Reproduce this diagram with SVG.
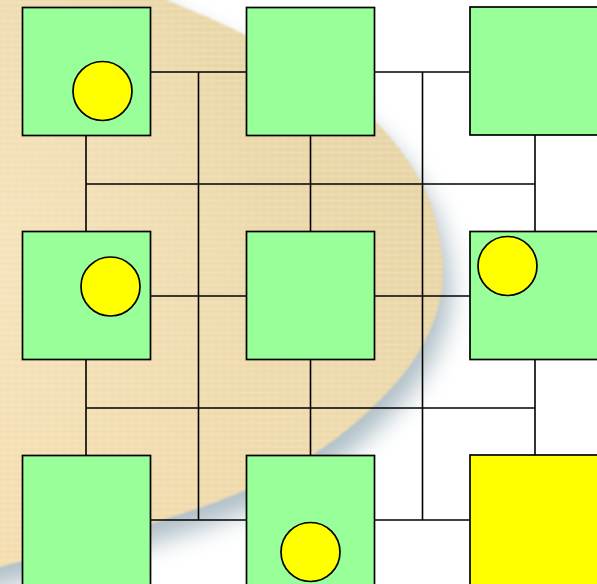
<svg xmlns="http://www.w3.org/2000/svg" width="597" height="584" viewBox="0 0 597 584">
<defs>
<style>
.node{fill:#99ff99;stroke:#000;stroke-width:1.7}
.hot{fill:#ffff00;stroke:#000;stroke-width:1.7}
.dot{fill:#ffff00;stroke:#000;stroke-width:1.7}
.wire{fill:none;stroke:#000;stroke-width:1.6}
</style>
<linearGradient id="tan" x1="1" y1="0" x2="0" y2="1">
<stop offset="0" stop-color="#e2cf9e"/>
<stop offset="0.45" stop-color="#ecd8aa"/>
<stop offset="1" stop-color="#f3daa8"/>
</linearGradient>
<radialGradient id="sheen" cx="0.05" cy="0.5" r="0.6">
<stop offset="0" stop-color="#fbeccc" stop-opacity="0.5"/>
<stop offset="1" stop-color="#fbeccc" stop-opacity="0"/>
</radialGradient>
<pattern id="stripes" width="8" height="6" patternUnits="userSpaceOnUse">
<rect x="0" y="2" width="8" height="1.2" fill="#fff6e0" opacity="0.45"/>
<rect x="3" y="0" width="0.8" height="6" fill="#fff6e0" opacity="0.18"/>
</pattern>
<filter id="shadowBlur" x="-20%" y="-20%" width="140%" height="140%">
<feGaussianBlur stdDeviation="12"/>
</filter>
<filter id="edgeBlur" x="-5%" y="-5%" width="110%" height="110%">
<feGaussianBlur stdDeviation="1.2"/>
</filter>
<path id="wafer" d="M -60,-40 L 120,-40 L 167,0 C 189.5,10 211.2,18 235,30 C 258.8,42 286.8,57 310,72 C 333.2,87 355.7,102 374,120 C 392.3,138 409,160 420,180 C 431,200 436.5,220.8 440,240 C 443.5,259.2 444.3,276.7 441,295 C 437.7,313.3 430.2,332.5 420,350 C 409.8,367.5 396.7,383.3 380,400 C 363.3,416.7 342.3,435 320,450 C 297.7,465 274.3,477.7 246,490 C 217.7,502.3 191,511.2 150,524 C 109,536.8 35,557.7 0,567 L -60,580 Z"/>
</defs>
<rect width="597" height="584" fill="#ffffff"/>
<g id="background">
<use href="#wafer" transform="translate(8,18)" fill="#8ea4b0" opacity="0.7" filter="url(#shadowBlur)"/>
<g filter="url(#edgeBlur)">
<use href="#wafer" fill="url(#tan)"/>
<use href="#wafer" fill="url(#sheen)"/>
<use href="#wafer" fill="url(#stripes)"/>
</g>
</g>
<g id="connectors">
<line class="wire" x1="150" y1="72" x2="246" y2="72"/>
<line class="wire" x1="374" y1="72" x2="470" y2="72"/>
<line class="wire" x1="198.5" y1="72" x2="198.5" y2="520"/>
<line class="wire" x1="422.5" y1="72" x2="422.5" y2="520"/>
<line class="wire" x1="86" y1="135" x2="86" y2="232"/>
<line class="wire" x1="310.5" y1="135" x2="310.5" y2="232"/>
<line class="wire" x1="535" y1="135" x2="535" y2="232"/>
<line class="wire" x1="86" y1="359" x2="86" y2="456"/>
<line class="wire" x1="310.5" y1="359" x2="310.5" y2="456"/>
<line class="wire" x1="535" y1="359" x2="535" y2="456"/>
<line class="wire" x1="86" y1="184" x2="535" y2="184"/>
<line class="wire" x1="86" y1="408" x2="535" y2="408"/>
<line class="wire" x1="150" y1="296" x2="246" y2="296"/>
<line class="wire" x1="374" y1="296" x2="470" y2="296"/>
<line class="wire" x1="150" y1="520" x2="246" y2="520"/>
<line class="wire" x1="374" y1="520" x2="470" y2="520"/>
</g>
<g id="node-r1c1"><rect class="node" x="22.5" y="7.5" width="128" height="128"/><circle class="dot" cx="102.5" cy="91" r="29.5"/></g>
<g id="node-r1c2"><rect class="node" x="246.5" y="7.5" width="128" height="128"/></g>
<g id="node-r1c3"><rect class="node" x="470" y="7" width="130" height="128"/></g>
<g id="node-r2c1"><rect class="node" x="22.5" y="231.5" width="128" height="128"/><circle class="dot" cx="110.5" cy="286.5" r="29.5"/></g>
<g id="node-r2c2"><rect class="node" x="246.5" y="231.5" width="128" height="128"/></g>
<g id="node-r2c3"><rect class="node" x="470" y="231.5" width="130" height="128"/><circle class="dot" cx="507.5" cy="266" r="29.5"/></g>
<g id="node-r3c1"><rect class="node" x="22.5" y="455.5" width="128" height="130"/></g>
<g id="node-r3c2"><rect class="node" x="246.5" y="455.5" width="128" height="130"/><circle class="dot" cx="310.5" cy="552" r="29.5"/></g>
<g id="node-r3c3"><rect class="hot" x="470" y="455" width="130" height="130"/></g>
</svg>
